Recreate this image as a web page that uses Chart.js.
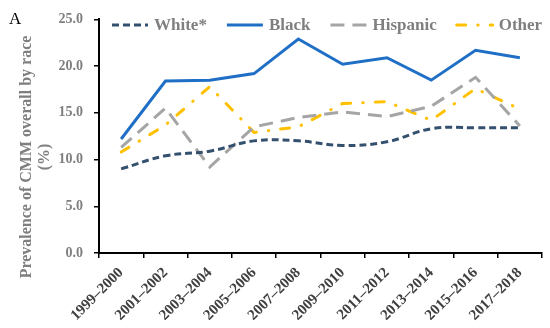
<!DOCTYPE html>
<html><head><meta charset="utf-8">
<script src="https://cdn.jsdelivr.net/npm/chart.js@4/dist/chart.umd.min.js"></script>
<style>html,body{margin:0;padding:0;background:#fff}</style>
</head><body>
<canvas id="c" width="550" height="328" style="display:block;width:550px;height:328px"></canvas>
<script>
const categories = ['1999–2000','2001–2002','2003–2004','2005–2006','2007–2008','2009–2010','2011–2012','2013–2014','2015–2016','2017–2018'];
const seriesNames = ['White*','Black','Hispanic','Other'];
const white    = [9.0, 10.4, 10.9, 12.0, 12.0, 11.5, 11.9, 13.3, 13.4, 13.4];
const black    = [12.2, 18.4, 18.5, 19.2, 22.9, 20.2, 20.9, 18.5, 21.7, 20.9];
const hispanic = [11.3, 15.5, 9.2, 13.5, 14.5, 15.1, 14.6, 15.7, 18.8, 13.6];
const other    = [10.8, 13.7, 17.8, 12.9, 13.5, 16.0, 16.2, 14.2, 17.6, 15.4];
const yTicks = [0, 5, 10, 15, 20, 25];
const yTitle = ['Prevalence of CMM overall by race', '(%)'];
const panelLabel = 'A';

const SERIF = '"Liberation Serif", "Times New Roman", serif';

const annotations = {
  id: 'annotations',
  afterDraw(chart) {
    const ctx = chart.ctx;
    ctx.save();
    // panel label
    ctx.font = '17px ' + SERIF;
    ctx.fillStyle = '#000';
    ctx.textBaseline = 'middle';
    ctx.textAlign = 'left';
    ctx.fillText(panelLabel, 9, 20);
    // y-axis title (two lines, rotated)
    ctx.save();
    ctx.font = 'bold 16px ' + SERIF;
    ctx.fillStyle = '#7f7f7f';
    ctx.textAlign = 'center';
    ctx.textBaseline = 'middle';
    const cy = 157;
    [27, 45].forEach((lx, i) => {
      ctx.save();
      ctx.translate(lx, cy);
      ctx.rotate(-Math.PI / 2);
      ctx.fillText(yTitle[i], 0, 0);
      ctx.restore();
    });
    ctx.restore();
    // legend
    ctx.font = 'bold 17px ' + SERIF;
    ctx.textAlign = 'left';
    let x = 112; const y = 25;
    chart.data.datasets.forEach(ds => {
      ctx.beginPath();
      ctx.strokeStyle = ds.borderColor;
      ctx.lineWidth = ds.borderWidth;
      ctx.setLineDash(ds.borderDash || []);
      ctx.lineCap = ds.borderCapStyle || 'butt';
      ctx.moveTo(x, y); ctx.lineTo(x + 36, y); ctx.stroke();
      ctx.setLineDash([]);
      ctx.fillStyle = '#7f7f7f';
      ctx.fillText(ds.label, x + 42, y + 1);
      x += 42 + ctx.measureText(ds.label).width + 20;
    });
    ctx.restore();
  }
};

new Chart(document.getElementById('c'), {
  type: 'line',
  data: {
    labels: categories,
    datasets: [
      { label: seriesNames[0], data: white, borderColor: '#34506f', borderWidth: 3, borderDash: [7, 4], tension: 0.4, pointRadius: 0 },
      { label: seriesNames[1], data: black, borderColor: '#1f6fc6', borderWidth: 3, tension: 0, pointRadius: 0 },
      { label: seriesNames[2], data: hispanic, borderColor: '#a5a5a5', borderWidth: 3, borderDash: [14, 8], tension: 0, pointRadius: 0 },
      { label: seriesNames[3], data: other, borderColor: '#ffc000', borderWidth: 3, borderDash: [9, 12, 0.5, 12], borderCapStyle: 'round', tension: 0, pointRadius: 0 }
    ]
  },
  options: {
    responsive: false,
    animation: false,
    devicePixelRatio: 1,
    layout: { padding: { left: 0, right: 8, top: 19, bottom: 0 } },
    plugins: { legend: { display: false }, tooltip: { enabled: false } },
    scales: {
      x: {
        offset: true,
        grid: { display: true, drawOnChartArea: false, drawTicks: true, tickLength: 5, color: '#000', lineWidth: 1.5, offset: true },
        border: { display: true, color: '#000', width: 2 },
        ticks: { autoSkip: false, maxRotation: 45, minRotation: 45, padding: 6, color: '#404040', font: { family: SERIF, size: 15, weight: 'bold' } },
        afterFit(s) { s.height = 75; }
      },
      y: {
        min: 0, max: 25,
        afterBuildTicks(s) { s.ticks = yTicks.map(v => ({ value: v })); },
        grid: { display: true, drawOnChartArea: false, drawTicks: true, tickLength: 5, color: '#000', lineWidth: 1.5 },
        border: { display: true, color: '#000', width: 2 },
        ticks: { padding: 11, color: '#7f7f7f', font: { family: SERIF, size: 14, weight: 'bold' }, callback: v => Number(v).toFixed(1) },
        title: { display: false },
        afterFit(s) { s.width = 99; }
      }
    }
  },
  plugins: [annotations]
});
</script>
</body></html>
